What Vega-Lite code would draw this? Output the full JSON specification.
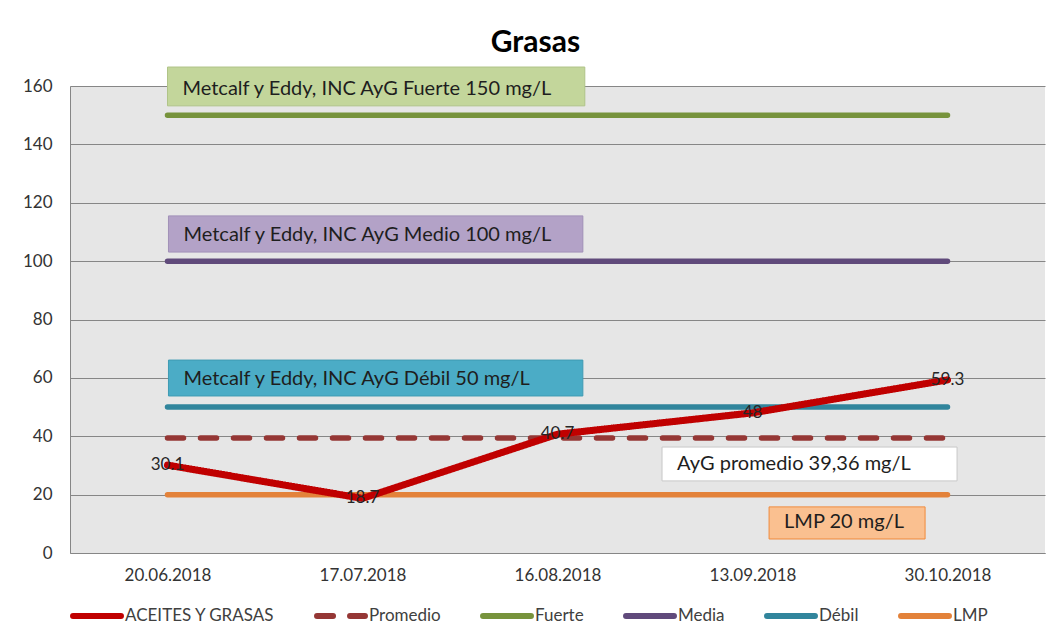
{
  "$schema": "https://vega.github.io/schema/vega-lite/v6.json",
  "width": 975,
  "height": 467,
  "autosize": {"type": "none"},
  "padding": {"left": 70, "top": 86, "right": 14, "bottom": 91},
  "background": "white",
  "title": {"text": "Grasas", "font": "Lato", "fontSize": 30, "fontWeight": "bold", "color": "#000000", "anchor": "middle", "dx": -22, "offset": 9},
  "config": {
    "view": {"stroke": null, "fill": "#e6e6e6"},
    "axis": {"labelFont": "Lato", "labelFontSize": 17, "labelColor": "#333333", "ticks": false, "domainColor": "#868686", "gridColor": "#868686", "gridWidth": 1, "title": null},
    "legend": {"labelFont": "Lato", "labelFontSize": 17, "labelColor": "#404040"}
  },
  "datasets": {
    "serie": [
      {"fecha": "20.06.2018", "serie": "ACEITES Y GRASAS", "valor": 30.1},
      {"fecha": "17.07.2018", "serie": "ACEITES Y GRASAS", "valor": 18.7},
      {"fecha": "16.08.2018", "serie": "ACEITES Y GRASAS", "valor": 40.7},
      {"fecha": "13.09.2018", "serie": "ACEITES Y GRASAS", "valor": 48},
      {"fecha": "30.10.2018", "serie": "ACEITES Y GRASAS", "valor": 59.3},
      {"fecha": "20.06.2018", "serie": "Promedio", "valor": 39.36},
      {"fecha": "17.07.2018", "serie": "Promedio", "valor": 39.36},
      {"fecha": "16.08.2018", "serie": "Promedio", "valor": 39.36},
      {"fecha": "13.09.2018", "serie": "Promedio", "valor": 39.36},
      {"fecha": "30.10.2018", "serie": "Promedio", "valor": 39.36},
      {"fecha": "20.06.2018", "serie": "Fuerte", "valor": 150},
      {"fecha": "17.07.2018", "serie": "Fuerte", "valor": 150},
      {"fecha": "16.08.2018", "serie": "Fuerte", "valor": 150},
      {"fecha": "13.09.2018", "serie": "Fuerte", "valor": 150},
      {"fecha": "30.10.2018", "serie": "Fuerte", "valor": 150},
      {"fecha": "20.06.2018", "serie": "Media", "valor": 100},
      {"fecha": "17.07.2018", "serie": "Media", "valor": 100},
      {"fecha": "16.08.2018", "serie": "Media", "valor": 100},
      {"fecha": "13.09.2018", "serie": "Media", "valor": 100},
      {"fecha": "30.10.2018", "serie": "Media", "valor": 100},
      {"fecha": "20.06.2018", "serie": "Débil", "valor": 50},
      {"fecha": "17.07.2018", "serie": "Débil", "valor": 50},
      {"fecha": "16.08.2018", "serie": "Débil", "valor": 50},
      {"fecha": "13.09.2018", "serie": "Débil", "valor": 50},
      {"fecha": "30.10.2018", "serie": "Débil", "valor": 50},
      {"fecha": "20.06.2018", "serie": "LMP", "valor": 20},
      {"fecha": "17.07.2018", "serie": "LMP", "valor": 20},
      {"fecha": "16.08.2018", "serie": "LMP", "valor": 20},
      {"fecha": "13.09.2018", "serie": "LMP", "valor": 20},
      {"fecha": "30.10.2018", "serie": "LMP", "valor": 20}
    ],
    "cajas": [
      {"caja": "Fuerte", "etiqueta": "Metcalf y Eddy, INC AyG Fuerte 150 mg/L", "x0": 0, "x1": 2.14, "y0": 153.2, "y1": 166.5},
      {"caja": "Media", "etiqueta": "Metcalf y Eddy, INC AyG Medio 100 mg/L", "x0": 0.005, "x1": 2.13, "y0": 103.1, "y1": 115.5},
      {"caja": "Débil", "etiqueta": "Metcalf y Eddy, INC AyG Débil 50 mg/L", "x0": 0.005, "x1": 2.13, "y0": 53.8, "y1": 66.1},
      {"caja": "Promedio", "etiqueta": "AyG promedio 39,36 mg/L", "x0": 2.536, "x1": 4.049, "y0": 24.7, "y1": 36.3},
      {"caja": "LMP", "etiqueta": "LMP 20 mg/L", "x0": 3.085, "x1": 3.885, "y0": 4.8, "y1": 15.8}
    ]
  },
  "layer": [
    {
      "data": {"name": "serie"},
      "encoding": {
        "x": {"field": "fecha", "type": "ordinal", "sort": null, "scale": {"type": "point", "padding": 0.5}, "axis": {"labelAngle": 0, "labelPadding": 14, "domain": true, "grid": false}},
        "y": {"field": "valor", "type": "quantitative", "scale": {"domain": [0, 160], "nice": false}, "axis": {"values": [0, 20, 40, 60, 80, 100, 120, 140, 160], "labelPadding": 18, "grid": true, "domain": true}}
      },
      "layer": [
        {
          "transform": [{"filter": "datum.serie !== 'ACEITES Y GRASAS'"}],
          "mark": {"type": "line", "strokeWidth": 5.5, "strokeCap": "round", "strokeJoin": "round"},
          "encoding": {
            "color": {"field": "serie", "type": "nominal", "title": null,
              "scale": {"domain": ["ACEITES Y GRASAS", "Promedio", "Fuerte", "Media", "Débil", "LMP"], "range": ["#c00000", "#953735", "#77933c", "#604a7b", "#31859c", "#e3823a"]},
              "legend": {"orient": "bottom", "direction": "horizontal", "symbolType": "stroke", "symbolSize": 2300, "symbolStrokeWidth": 6, "labelOffset": 1, "columnPadding": 30, "offset": 6,
                "encode": {"symbols": {"update": {"strokeCap": {"value": "round"}}}}}},
            "strokeDash": {"field": "serie", "type": "nominal", "title": null,
              "scale": {"domain": ["ACEITES Y GRASAS", "Promedio", "Fuerte", "Media", "Débil", "LMP"], "range": [[1, 0], [16, 17], [1, 0], [1, 0], [1, 0], [1, 0]]}}
          }
        },
        {
          "transform": [{"filter": "datum.serie === 'ACEITES Y GRASAS'"}],
          "mark": {"type": "line", "strokeWidth": 7, "strokeCap": "round", "strokeJoin": "round"},
          "encoding": {
            "color": {"field": "serie", "type": "nominal", "title": null},
            "strokeDash": {"field": "serie", "type": "nominal", "title": null}
          }
        },
        {
          "transform": [{"filter": "datum.serie === 'ACEITES Y GRASAS'"}],
          "mark": {"type": "text", "font": "Lato", "fontSize": 17, "color": "#262626", "align": "center", "baseline": "middle"},
          "encoding": {
            "text": {"field": "valor", "type": "quantitative", "format": ".4~g"}
          }
        }
      ]
    },
    {
      "data": {"name": "cajas"},
      "encoding": {
        "x": {"field": "x0", "type": "quantitative", "scale": {"domain": [-0.5, 4.5], "nice": false, "zero": false}, "axis": null},
        "y": {"field": "y0", "type": "quantitative"}
      },
      "layer": [
        {
          "mark": {"type": "rect", "strokeWidth": 1},
          "encoding": {
            "x2": {"field": "x1"},
            "y2": {"field": "y1"},
            "fill": {"field": "caja", "type": "nominal", "legend": null,
              "scale": {"domain": ["Fuerte", "Media", "Débil", "Promedio", "LMP"], "range": ["#c3d69b", "#b3a2c7", "#4bacc6", "#ffffff", "#fac090"]}},
            "stroke": {"field": "caja", "type": "nominal", "legend": null,
              "scale": {"domain": ["Fuerte", "Media", "Débil", "Promedio", "LMP"], "range": ["#b0c488", "#a190b8", "#3f9bb3", "#c8c8c8", "#f08a3c"]}}
          }
        },
        {
          "mark": {"type": "text", "font": "Lato", "fontSize": 20, "color": "#1e1e1e", "align": "left", "baseline": "alphabetic", "dx": 15, "dy": -11},
          "encoding": {
            "text": {"field": "etiqueta", "type": "nominal"}
          }
        }
      ]
    }
  ],
  "resolve": {"scale": {"x": "independent"}}
}
